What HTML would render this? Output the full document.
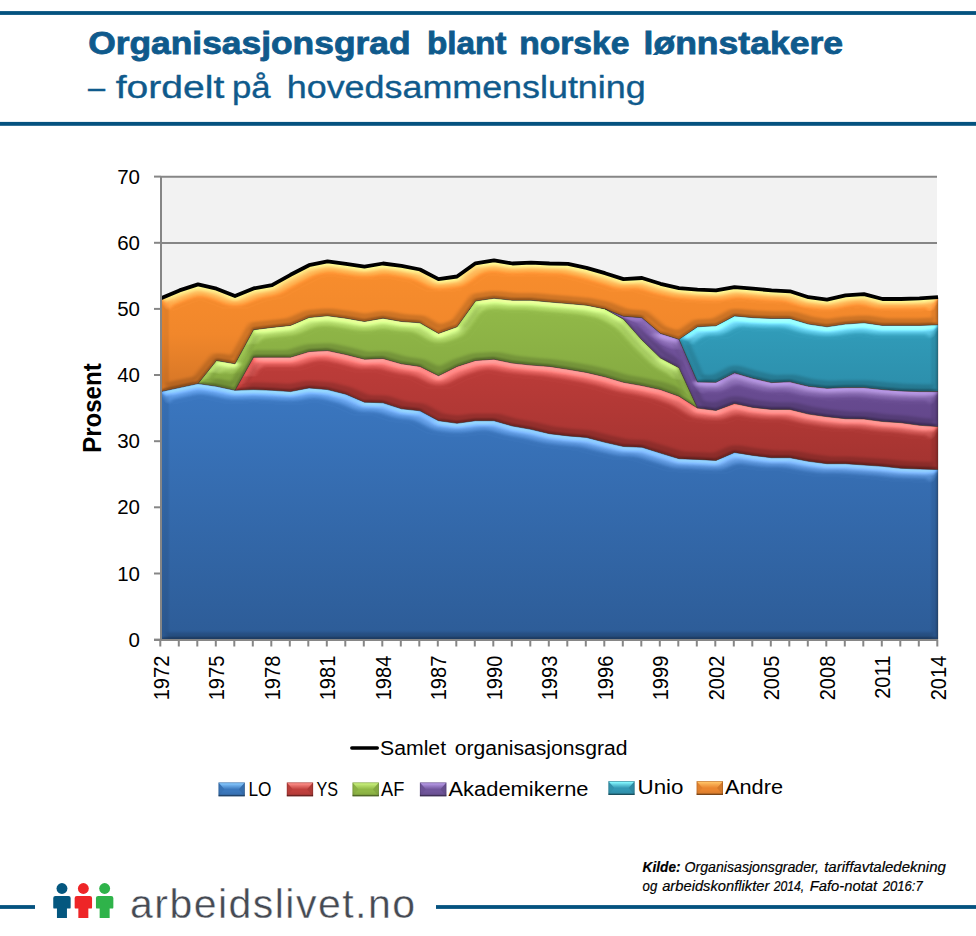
<!DOCTYPE html>
<html lang="no">
<head>
<meta charset="utf-8">
<title>Organisasjonsgrad blant norske lønnstakere</title>
<style>
html,body{margin:0;padding:0;background:#fff;}
body{width:976px;height:936px;overflow:hidden;font-family:"Liberation Sans",sans-serif;}
svg{display:block;}
text{font-family:"Liberation Sans",sans-serif;}
.ax{stroke:#868686;stroke-width:2;fill:none;}
.yl{font-size:20.5px;fill:#000;}
.xl{font-size:19.5px;fill:#000;}
.lg{font-size:20px;fill:#000;}
</style>
</head>
<body>
<svg width="976" height="936" viewBox="0 0 976 936">
<defs>
  <linearGradient id="g-lo" x1="0" y1="380" x2="0" y2="640" gradientUnits="userSpaceOnUse"><stop offset="0" stop-color="#3b78c2"/><stop offset="1" stop-color="#2d5c97"/></linearGradient>
  <linearGradient id="g-ys" x1="0" y1="340" x2="0" y2="470" gradientUnits="userSpaceOnUse"><stop offset="0" stop-color="#c23e3b"/><stop offset="1" stop-color="#a33330"/></linearGradient>
  <linearGradient id="g-af" x1="0" y1="290" x2="0" y2="410" gradientUnits="userSpaceOnUse"><stop offset="0" stop-color="#94bc4a"/><stop offset="1" stop-color="#82a63f"/></linearGradient>
  <linearGradient id="g-ak" x1="0" y1="310" x2="0" y2="430" gradientUnits="userSpaceOnUse"><stop offset="0" stop-color="#7556a0"/><stop offset="1" stop-color="#62468a"/></linearGradient>
  <linearGradient id="g-un" x1="0" y1="310" x2="0" y2="395" gradientUnits="userSpaceOnUse"><stop offset="0" stop-color="#32a0bd"/><stop offset="1" stop-color="#2c8daa"/></linearGradient>
  <linearGradient id="g-an" x1="0" y1="260" x2="0" y2="395" gradientUnits="userSpaceOnUse"><stop offset="0" stop-color="#fa8e2d"/><stop offset="0.55" stop-color="#f1872b"/><stop offset="1" stop-color="#d37426"/></linearGradient>
  <filter id="bv-lo" x="-2%" y="-5%" width="104%" height="110%" color-interpolation-filters="sRGB">
    <feMorphology in="SourceAlpha" operator="erode" radius="3.5" result="er"/>
    <feConvolveMatrix in="er" order="8 1" kernelMatrix="1 1 1 1 1 1 1 1" divisor="8" edgeMode="none" result="bx"/>
    <feConvolveMatrix in="bx" order="1 8" kernelMatrix="1 1 1 1 1 1 1 1" divisor="8" edgeMode="none" result="by"/>
    <feGaussianBlur in="by" stdDeviation="0.8" result="ramp"/>
    <feMorphology in="SourceAlpha" operator="erode" radius="6" result="er2"/>
    <feConvolveMatrix in="er2" order="13 1" kernelMatrix="1 1 1 1 1 1 1 1 1 1 1 1 1" divisor="13" edgeMode="none" result="cx"/>
    <feConvolveMatrix in="cx" order="1 13" kernelMatrix="1 1 1 1 1 1 1 1 1 1 1 1 1" divisor="13" edgeMode="none" result="cy"/>
    <feComponentTransfer in="cy" result="dome0"><feFuncA type="table" tableValues="0 .271 .488 .657 .784 .875 .936 .973 .992 .999 1"/></feComponentTransfer>
    <feGaussianBlur in="dome0" stdDeviation="1.3" result="dome"/>
    <feGaussianBlur in="SourceAlpha" stdDeviation="1.7" result="blurN"/>
    <!-- chamfer faces: nearly overhead light; flat = sin(78) = .978 -->
    <feDiffuseLighting in="ramp" surfaceScale="1.6" diffuseConstant="1" lighting-color="#ffffff" result="dC"><feDistantLight azimuth="270" elevation="78"/></feDiffuseLighting>
    <!-- highlight on top faces: flat = .5 -->
    <feDiffuseLighting in="dome" surfaceScale="4.6" diffuseConstant="1" lighting-color="#ffffff" result="dH"><feDistantLight azimuth="270" elevation="30"/></feDiffuseLighting>
    <feColorMatrix in="dH" type="matrix" values="0.432 0 0 0 -0.216  0 0.432 0 0 -0.216  0 0 0.432 0 -0.216  0 0 0 0 1" result="hl"/>
    <feMorphology in="SourceAlpha" operator="erode" radius="1" result="er1"/>
    <feGaussianBlur in="er1" stdDeviation="2.2" result="blurG"/>
    <feDiffuseLighting in="blurG" surfaceScale="4" diffuseConstant="1" lighting-color="#ffffff" result="dG"><feDistantLight azimuth="270" elevation="30"/></feDiffuseLighting>
    <feColorMatrix in="dG" type="matrix" values="0.243 0 0 0 -0.122  0 0.243 0 0 -0.122  0 0 0.243 0 -0.122  0 0 0 0 1" result="hlG"/>
    <!-- thin dark rim: flat = .7071 -->
    <feDiffuseLighting in="blurN" surfaceScale="3" diffuseConstant="1" lighting-color="#ffffff" result="dN"><feDistantLight azimuth="252" elevation="45"/></feDiffuseLighting>
    <feComposite in="SourceGraphic" in2="dC" operator="arithmetic" k1="1.022" k2="0" k3="0" k4="0" result="l1"/>
    <feComposite in="l1" in2="dN" operator="arithmetic" k1="0.36" k2="0.7455" k3="0" k4="0" result="l2"/>
    <feComposite in="hl" in2="l2" operator="arithmetic" k1="0" k2="1" k3="1" k4="0" result="l3a"/>
    <feComposite in="hlG" in2="l3a" operator="arithmetic" k1="0" k2="1" k3="1" k4="0" result="l3"/>
    <feComposite in="l3" in2="SourceAlpha" operator="in"/>
  </filter>
  <filter id="bv-ys" x="-2%" y="-5%" width="104%" height="110%" color-interpolation-filters="sRGB">
    <feMorphology in="SourceAlpha" operator="erode" radius="3.5" result="er"/>
    <feConvolveMatrix in="er" order="8 1" kernelMatrix="1 1 1 1 1 1 1 1" divisor="8" edgeMode="none" result="bx"/>
    <feConvolveMatrix in="bx" order="1 8" kernelMatrix="1 1 1 1 1 1 1 1" divisor="8" edgeMode="none" result="by"/>
    <feGaussianBlur in="by" stdDeviation="0.8" result="ramp"/>
    <feMorphology in="SourceAlpha" operator="erode" radius="6" result="er2"/>
    <feConvolveMatrix in="er2" order="13 1" kernelMatrix="1 1 1 1 1 1 1 1 1 1 1 1 1" divisor="13" edgeMode="none" result="cx"/>
    <feConvolveMatrix in="cx" order="1 13" kernelMatrix="1 1 1 1 1 1 1 1 1 1 1 1 1" divisor="13" edgeMode="none" result="cy"/>
    <feComponentTransfer in="cy" result="dome0"><feFuncA type="table" tableValues="0 .271 .488 .657 .784 .875 .936 .973 .992 .999 1"/></feComponentTransfer>
    <feGaussianBlur in="dome0" stdDeviation="1.3" result="dome"/>
    <feGaussianBlur in="SourceAlpha" stdDeviation="1.7" result="blurN"/>
    <!-- chamfer faces: nearly overhead light; flat = sin(78) = .978 -->
    <feDiffuseLighting in="ramp" surfaceScale="1.6" diffuseConstant="1" lighting-color="#ffffff" result="dC"><feDistantLight azimuth="270" elevation="78"/></feDiffuseLighting>
    <!-- highlight on top faces: flat = .5 -->
    <feDiffuseLighting in="dome" surfaceScale="4.6" diffuseConstant="1" lighting-color="#ffffff" result="dH"><feDistantLight azimuth="270" elevation="30"/></feDiffuseLighting>
    <feColorMatrix in="dH" type="matrix" values="0.464 0 0 0 -0.232  0 0.464 0 0 -0.232  0 0 0.464 0 -0.232  0 0 0 0 1" result="hl"/>
    <feMorphology in="SourceAlpha" operator="erode" radius="1" result="er1"/>
    <feGaussianBlur in="er1" stdDeviation="2.2" result="blurG"/>
    <feDiffuseLighting in="blurG" surfaceScale="4" diffuseConstant="1" lighting-color="#ffffff" result="dG"><feDistantLight azimuth="270" elevation="30"/></feDiffuseLighting>
    <feColorMatrix in="dG" type="matrix" values="0.261 0 0 0 -0.131  0 0.261 0 0 -0.131  0 0 0.261 0 -0.131  0 0 0 0 1" result="hlG"/>
    <!-- thin dark rim: flat = .7071 -->
    <feDiffuseLighting in="blurN" surfaceScale="3" diffuseConstant="1" lighting-color="#ffffff" result="dN"><feDistantLight azimuth="252" elevation="45"/></feDiffuseLighting>
    <feComposite in="SourceGraphic" in2="dC" operator="arithmetic" k1="1.022" k2="0" k3="0" k4="0" result="l1"/>
    <feComposite in="l1" in2="dN" operator="arithmetic" k1="0.36" k2="0.7455" k3="0" k4="0" result="l2"/>
    <feComposite in="hl" in2="l2" operator="arithmetic" k1="0" k2="1" k3="1" k4="0" result="l3a"/>
    <feComposite in="hlG" in2="l3a" operator="arithmetic" k1="0" k2="1" k3="1" k4="0" result="l3"/>
    <feComposite in="l3" in2="SourceAlpha" operator="in"/>
  </filter>
  <filter id="bv-af" x="-2%" y="-5%" width="104%" height="110%" color-interpolation-filters="sRGB">
    <feMorphology in="SourceAlpha" operator="erode" radius="3.5" result="er"/>
    <feConvolveMatrix in="er" order="8 1" kernelMatrix="1 1 1 1 1 1 1 1" divisor="8" edgeMode="none" result="bx"/>
    <feConvolveMatrix in="bx" order="1 8" kernelMatrix="1 1 1 1 1 1 1 1" divisor="8" edgeMode="none" result="by"/>
    <feGaussianBlur in="by" stdDeviation="0.8" result="ramp"/>
    <feMorphology in="SourceAlpha" operator="erode" radius="6" result="er2"/>
    <feConvolveMatrix in="er2" order="13 1" kernelMatrix="1 1 1 1 1 1 1 1 1 1 1 1 1" divisor="13" edgeMode="none" result="cx"/>
    <feConvolveMatrix in="cx" order="1 13" kernelMatrix="1 1 1 1 1 1 1 1 1 1 1 1 1" divisor="13" edgeMode="none" result="cy"/>
    <feComponentTransfer in="cy" result="dome0"><feFuncA type="table" tableValues="0 .271 .488 .657 .784 .875 .936 .973 .992 .999 1"/></feComponentTransfer>
    <feGaussianBlur in="dome0" stdDeviation="1.3" result="dome"/>
    <feGaussianBlur in="SourceAlpha" stdDeviation="1.7" result="blurN"/>
    <!-- chamfer faces: nearly overhead light; flat = sin(78) = .978 -->
    <feDiffuseLighting in="ramp" surfaceScale="1.6" diffuseConstant="1" lighting-color="#ffffff" result="dC"><feDistantLight azimuth="270" elevation="78"/></feDiffuseLighting>
    <!-- highlight on top faces: flat = .5 -->
    <feDiffuseLighting in="dome" surfaceScale="4.6" diffuseConstant="1" lighting-color="#ffffff" result="dH"><feDistantLight azimuth="270" elevation="30"/></feDiffuseLighting>
    <feColorMatrix in="dH" type="matrix" values="0.384 0 0 0 -0.192  0 0.384 0 0 -0.192  0 0 0.384 0 -0.192  0 0 0 0 1" result="hl"/>
    <feMorphology in="SourceAlpha" operator="erode" radius="1" result="er1"/>
    <feGaussianBlur in="er1" stdDeviation="2.2" result="blurG"/>
    <feDiffuseLighting in="blurG" surfaceScale="4" diffuseConstant="1" lighting-color="#ffffff" result="dG"><feDistantLight azimuth="270" elevation="30"/></feDiffuseLighting>
    <feColorMatrix in="dG" type="matrix" values="0.216 0 0 0 -0.108  0 0.216 0 0 -0.108  0 0 0.216 0 -0.108  0 0 0 0 1" result="hlG"/>
    <!-- thin dark rim: flat = .7071 -->
    <feDiffuseLighting in="blurN" surfaceScale="3" diffuseConstant="1" lighting-color="#ffffff" result="dN"><feDistantLight azimuth="252" elevation="45"/></feDiffuseLighting>
    <feComposite in="SourceGraphic" in2="dC" operator="arithmetic" k1="1.022" k2="0" k3="0" k4="0" result="l1"/>
    <feComposite in="l1" in2="dN" operator="arithmetic" k1="0.36" k2="0.7455" k3="0" k4="0" result="l2"/>
    <feComposite in="hl" in2="l2" operator="arithmetic" k1="0" k2="1" k3="1" k4="0" result="l3a"/>
    <feComposite in="hlG" in2="l3a" operator="arithmetic" k1="0" k2="1" k3="1" k4="0" result="l3"/>
    <feComposite in="l3" in2="SourceAlpha" operator="in"/>
  </filter>
  <filter id="bv-ak" x="-2%" y="-5%" width="104%" height="110%" color-interpolation-filters="sRGB">
    <feMorphology in="SourceAlpha" operator="erode" radius="3.5" result="er"/>
    <feConvolveMatrix in="er" order="8 1" kernelMatrix="1 1 1 1 1 1 1 1" divisor="8" edgeMode="none" result="bx"/>
    <feConvolveMatrix in="bx" order="1 8" kernelMatrix="1 1 1 1 1 1 1 1" divisor="8" edgeMode="none" result="by"/>
    <feGaussianBlur in="by" stdDeviation="0.8" result="ramp"/>
    <feMorphology in="SourceAlpha" operator="erode" radius="6" result="er2"/>
    <feConvolveMatrix in="er2" order="13 1" kernelMatrix="1 1 1 1 1 1 1 1 1 1 1 1 1" divisor="13" edgeMode="none" result="cx"/>
    <feConvolveMatrix in="cx" order="1 13" kernelMatrix="1 1 1 1 1 1 1 1 1 1 1 1 1" divisor="13" edgeMode="none" result="cy"/>
    <feComponentTransfer in="cy" result="dome0"><feFuncA type="table" tableValues="0 .271 .488 .657 .784 .875 .936 .973 .992 .999 1"/></feComponentTransfer>
    <feGaussianBlur in="dome0" stdDeviation="1.3" result="dome"/>
    <feGaussianBlur in="SourceAlpha" stdDeviation="1.7" result="blurN"/>
    <!-- chamfer faces: nearly overhead light; flat = sin(78) = .978 -->
    <feDiffuseLighting in="ramp" surfaceScale="1.6" diffuseConstant="1" lighting-color="#ffffff" result="dC"><feDistantLight azimuth="270" elevation="78"/></feDiffuseLighting>
    <!-- highlight on top faces: flat = .5 -->
    <feDiffuseLighting in="dome" surfaceScale="4.6" diffuseConstant="1" lighting-color="#ffffff" result="dH"><feDistantLight azimuth="270" elevation="30"/></feDiffuseLighting>
    <feColorMatrix in="dH" type="matrix" values="0.336 0 0 0 -0.168  0 0.336 0 0 -0.168  0 0 0.336 0 -0.168  0 0 0 0 1" result="hl"/>
    <feMorphology in="SourceAlpha" operator="erode" radius="1" result="er1"/>
    <feGaussianBlur in="er1" stdDeviation="2.2" result="blurG"/>
    <feDiffuseLighting in="blurG" surfaceScale="4" diffuseConstant="1" lighting-color="#ffffff" result="dG"><feDistantLight azimuth="270" elevation="30"/></feDiffuseLighting>
    <feColorMatrix in="dG" type="matrix" values="0.189 0 0 0 -0.095  0 0.189 0 0 -0.095  0 0 0.189 0 -0.095  0 0 0 0 1" result="hlG"/>
    <!-- thin dark rim: flat = .7071 -->
    <feDiffuseLighting in="blurN" surfaceScale="3" diffuseConstant="1" lighting-color="#ffffff" result="dN"><feDistantLight azimuth="252" elevation="45"/></feDiffuseLighting>
    <feComposite in="SourceGraphic" in2="dC" operator="arithmetic" k1="1.022" k2="0" k3="0" k4="0" result="l1"/>
    <feComposite in="l1" in2="dN" operator="arithmetic" k1="0.36" k2="0.7455" k3="0" k4="0" result="l2"/>
    <feComposite in="hl" in2="l2" operator="arithmetic" k1="0" k2="1" k3="1" k4="0" result="l3a"/>
    <feComposite in="hlG" in2="l3a" operator="arithmetic" k1="0" k2="1" k3="1" k4="0" result="l3"/>
    <feComposite in="l3" in2="SourceAlpha" operator="in"/>
  </filter>
  <filter id="bv-un" x="-2%" y="-5%" width="104%" height="110%" color-interpolation-filters="sRGB">
    <feMorphology in="SourceAlpha" operator="erode" radius="3.5" result="er"/>
    <feConvolveMatrix in="er" order="8 1" kernelMatrix="1 1 1 1 1 1 1 1" divisor="8" edgeMode="none" result="bx"/>
    <feConvolveMatrix in="bx" order="1 8" kernelMatrix="1 1 1 1 1 1 1 1" divisor="8" edgeMode="none" result="by"/>
    <feGaussianBlur in="by" stdDeviation="0.8" result="ramp"/>
    <feMorphology in="SourceAlpha" operator="erode" radius="6" result="er2"/>
    <feConvolveMatrix in="er2" order="13 1" kernelMatrix="1 1 1 1 1 1 1 1 1 1 1 1 1" divisor="13" edgeMode="none" result="cx"/>
    <feConvolveMatrix in="cx" order="1 13" kernelMatrix="1 1 1 1 1 1 1 1 1 1 1 1 1" divisor="13" edgeMode="none" result="cy"/>
    <feComponentTransfer in="cy" result="dome0"><feFuncA type="table" tableValues="0 .271 .488 .657 .784 .875 .936 .973 .992 .999 1"/></feComponentTransfer>
    <feGaussianBlur in="dome0" stdDeviation="1.3" result="dome"/>
    <feGaussianBlur in="SourceAlpha" stdDeviation="1.7" result="blurN"/>
    <!-- chamfer faces: nearly overhead light; flat = sin(78) = .978 -->
    <feDiffuseLighting in="ramp" surfaceScale="1.6" diffuseConstant="1" lighting-color="#ffffff" result="dC"><feDistantLight azimuth="270" elevation="78"/></feDiffuseLighting>
    <!-- highlight on top faces: flat = .5 -->
    <feDiffuseLighting in="dome" surfaceScale="4.6" diffuseConstant="1" lighting-color="#ffffff" result="dH"><feDistantLight azimuth="270" elevation="30"/></feDiffuseLighting>
    <feColorMatrix in="dH" type="matrix" values="0.560 0 0 0 -0.280  0 0.560 0 0 -0.280  0 0 0.560 0 -0.280  0 0 0 0 1" result="hl"/>
    <feMorphology in="SourceAlpha" operator="erode" radius="1" result="er1"/>
    <feGaussianBlur in="er1" stdDeviation="2.2" result="blurG"/>
    <feDiffuseLighting in="blurG" surfaceScale="4" diffuseConstant="1" lighting-color="#ffffff" result="dG"><feDistantLight azimuth="270" elevation="30"/></feDiffuseLighting>
    <feColorMatrix in="dG" type="matrix" values="0.315 0 0 0 -0.158  0 0.315 0 0 -0.158  0 0 0.315 0 -0.158  0 0 0 0 1" result="hlG"/>
    <!-- thin dark rim: flat = .7071 -->
    <feDiffuseLighting in="blurN" surfaceScale="3" diffuseConstant="1" lighting-color="#ffffff" result="dN"><feDistantLight azimuth="252" elevation="45"/></feDiffuseLighting>
    <feComposite in="SourceGraphic" in2="dC" operator="arithmetic" k1="1.022" k2="0" k3="0" k4="0" result="l1"/>
    <feComposite in="l1" in2="dN" operator="arithmetic" k1="0.36" k2="0.7455" k3="0" k4="0" result="l2"/>
    <feComposite in="hl" in2="l2" operator="arithmetic" k1="0" k2="1" k3="1" k4="0" result="l3a"/>
    <feComposite in="hlG" in2="l3a" operator="arithmetic" k1="0" k2="1" k3="1" k4="0" result="l3"/>
    <feComposite in="l3" in2="SourceAlpha" operator="in"/>
  </filter>
  <filter id="bv-an" x="-2%" y="-5%" width="104%" height="110%" color-interpolation-filters="sRGB">
    <feMorphology in="SourceAlpha" operator="erode" radius="3.5" result="er"/>
    <feConvolveMatrix in="er" order="8 1" kernelMatrix="1 1 1 1 1 1 1 1" divisor="8" edgeMode="none" result="bx"/>
    <feConvolveMatrix in="bx" order="1 8" kernelMatrix="1 1 1 1 1 1 1 1" divisor="8" edgeMode="none" result="by"/>
    <feGaussianBlur in="by" stdDeviation="0.8" result="ramp"/>
    <feMorphology in="SourceAlpha" operator="erode" radius="6" result="er2"/>
    <feConvolveMatrix in="er2" order="13 1" kernelMatrix="1 1 1 1 1 1 1 1 1 1 1 1 1" divisor="13" edgeMode="none" result="cx"/>
    <feConvolveMatrix in="cx" order="1 13" kernelMatrix="1 1 1 1 1 1 1 1 1 1 1 1 1" divisor="13" edgeMode="none" result="cy"/>
    <feComponentTransfer in="cy" result="dome0"><feFuncA type="table" tableValues="0 .271 .488 .657 .784 .875 .936 .973 .992 .999 1"/></feComponentTransfer>
    <feGaussianBlur in="dome0" stdDeviation="1.3" result="dome"/>
    <feGaussianBlur in="SourceAlpha" stdDeviation="1.7" result="blurN"/>
    <!-- chamfer faces: nearly overhead light; flat = sin(78) = .978 -->
    <feDiffuseLighting in="ramp" surfaceScale="1.6" diffuseConstant="1" lighting-color="#ffffff" result="dC"><feDistantLight azimuth="270" elevation="78"/></feDiffuseLighting>
    <!-- highlight on top faces: flat = .5 -->
    <feDiffuseLighting in="dome" surfaceScale="4.6" diffuseConstant="1" lighting-color="#ffffff" result="dH"><feDistantLight azimuth="270" elevation="30"/></feDiffuseLighting>
    <feColorMatrix in="dH" type="matrix" values="0.496 0 0 0 -0.248  0 0.496 0 0 -0.248  0 0 0.496 0 -0.248  0 0 0 0 1" result="hl"/>
    <feMorphology in="SourceAlpha" operator="erode" radius="1" result="er1"/>
    <feGaussianBlur in="er1" stdDeviation="2.2" result="blurG"/>
    <feDiffuseLighting in="blurG" surfaceScale="4" diffuseConstant="1" lighting-color="#ffffff" result="dG"><feDistantLight azimuth="270" elevation="30"/></feDiffuseLighting>
    <feColorMatrix in="dG" type="matrix" values="0.279 0 0 0 -0.140  0 0.279 0 0 -0.140  0 0 0.279 0 -0.140  0 0 0 0 1" result="hlG"/>
    <!-- thin dark rim: flat = .7071 -->
    <feDiffuseLighting in="blurN" surfaceScale="3" diffuseConstant="1" lighting-color="#ffffff" result="dN"><feDistantLight azimuth="252" elevation="45"/></feDiffuseLighting>
    <feComposite in="SourceGraphic" in2="dC" operator="arithmetic" k1="1.022" k2="0" k3="0" k4="0" result="l1"/>
    <feComposite in="l1" in2="dN" operator="arithmetic" k1="0.36" k2="0.7455" k3="0" k4="0" result="l2"/>
    <feComposite in="hl" in2="l2" operator="arithmetic" k1="0" k2="1" k3="1" k4="0" result="l3a"/>
    <feComposite in="hlG" in2="l3a" operator="arithmetic" k1="0" k2="1" k3="1" k4="0" result="l3"/>
    <feComposite in="l3" in2="SourceAlpha" operator="in"/>
  </filter>
  <linearGradient id="swT0" x1="0" y1="0" x2="0" y2="1"><stop offset="0" stop-color="#86c8ff" stop-opacity="0.35"/><stop offset="0.17" stop-color="#86c8ff" stop-opacity="0.98"/><stop offset="0.45" stop-color="#86c8ff" stop-opacity="0.62"/><stop offset="1" stop-color="#86c8ff" stop-opacity="0"/></linearGradient>
  <linearGradient id="swT1" x1="0" y1="0" x2="0" y2="1"><stop offset="0" stop-color="#ff8f89" stop-opacity="0.35"/><stop offset="0.17" stop-color="#ff8f89" stop-opacity="0.98"/><stop offset="0.45" stop-color="#ff8f89" stop-opacity="0.62"/><stop offset="1" stop-color="#ff8f89" stop-opacity="0"/></linearGradient>
  <linearGradient id="swT2" x1="0" y1="0" x2="0" y2="1"><stop offset="0" stop-color="#c9f07c" stop-opacity="0.35"/><stop offset="0.17" stop-color="#c9f07c" stop-opacity="0.98"/><stop offset="0.45" stop-color="#c9f07c" stop-opacity="0.62"/><stop offset="1" stop-color="#c9f07c" stop-opacity="0"/></linearGradient>
  <linearGradient id="swT3" x1="0" y1="0" x2="0" y2="1"><stop offset="0" stop-color="#b79ae6" stop-opacity="0.35"/><stop offset="0.17" stop-color="#b79ae6" stop-opacity="0.98"/><stop offset="0.45" stop-color="#b79ae6" stop-opacity="0.62"/><stop offset="1" stop-color="#b79ae6" stop-opacity="0"/></linearGradient>
  <linearGradient id="swT4" x1="0" y1="0" x2="0" y2="1"><stop offset="0" stop-color="#84f8ff" stop-opacity="0.35"/><stop offset="0.17" stop-color="#84f8ff" stop-opacity="0.98"/><stop offset="0.45" stop-color="#84f8ff" stop-opacity="0.62"/><stop offset="1" stop-color="#84f8ff" stop-opacity="0"/></linearGradient>
  <linearGradient id="swT5" x1="0" y1="0" x2="0" y2="1"><stop offset="0" stop-color="#ffc266" stop-opacity="0.35"/><stop offset="0.17" stop-color="#ffc266" stop-opacity="0.98"/><stop offset="0.45" stop-color="#ffc266" stop-opacity="0.62"/><stop offset="1" stop-color="#ffc266" stop-opacity="0"/></linearGradient>
  <linearGradient id="swBot" x1="0" y1="0" x2="0" y2="1"><stop offset="0" stop-color="#000" stop-opacity="0"/><stop offset="0.6" stop-color="#000" stop-opacity="0.06"/><stop offset="0.8" stop-color="#000" stop-opacity="0.38"/><stop offset="1" stop-color="#000" stop-opacity="0.42"/></linearGradient>
</defs>

<!-- header -->
<rect x="0" y="11.1" width="976" height="3.8" fill="#04527f"/>
<rect x="0" y="121.9" width="976" height="3.9" fill="#04527f"/>
<text x="88.20" y="54" font-size="30.5" font-weight="bold" fill="#0f5a8c" stroke="#0f5a8c" stroke-width="0.8" textLength="322.37" lengthAdjust="spacingAndGlyphs">Organisasjonsgrad</text>
<text x="426.90" y="54" font-size="30.5" font-weight="bold" fill="#0f5a8c" stroke="#0f5a8c" stroke-width="0.8" textLength="79.55" lengthAdjust="spacingAndGlyphs">blant</text>
<text x="519.20" y="54" font-size="30.5" font-weight="bold" fill="#0f5a8c" stroke="#0f5a8c" stroke-width="0.8" textLength="110.32" lengthAdjust="spacingAndGlyphs">norske</text>
<text x="643.60" y="54" font-size="30.5" font-weight="bold" fill="#0f5a8c" stroke="#0f5a8c" stroke-width="0.8" textLength="199.41" lengthAdjust="spacingAndGlyphs">lønnstakere</text>
<text x="88.10" y="98" font-size="31" fill="#0f5a8c" stroke="#0f5a8c" stroke-width="0.35" textLength="17.14" lengthAdjust="spacingAndGlyphs">–</text>
<text x="115.70" y="98" font-size="31" fill="#0f5a8c" stroke="#0f5a8c" stroke-width="0.35" textLength="108.65" lengthAdjust="spacingAndGlyphs">fordelt</text>
<text x="232.00" y="98" font-size="31" fill="#0f5a8c" stroke="#0f5a8c" stroke-width="0.35" textLength="38.58" lengthAdjust="spacingAndGlyphs">på</text>
<text x="286.80" y="98" font-size="31" fill="#0f5a8c" stroke="#0f5a8c" stroke-width="0.35" textLength="358.88" lengthAdjust="spacingAndGlyphs">hovedsammenslutning</text>

<!-- plot -->
<rect x="161" y="177" width="776" height="463" fill="#f2f2f2"/>
<g class="ax">
<line x1="161" x2="937" y1="176.8" y2="176.8"/>
<line x1="161" x2="937" y1="242.9" y2="242.9"/>
<line x1="161" x2="937" y1="309" y2="309"/>
</g>
<path class="b" d="M161.0 391.6 L179.5 387.6 L198.0 383.6 L216.5 386.3 L235.0 390.3 L253.5 389.6 L272.0 390.3 L290.5 391.6 L309.0 387.9 L327.5 389.6 L346.0 394.2 L364.5 402.2 L383.0 402.8 L401.5 408.8 L420.0 410.8 L438.5 420.7 L457.0 423.3 L475.5 420.7 L494.0 420.7 L512.5 426.0 L531.0 429.3 L549.5 433.7 L568.0 435.9 L586.5 437.4 L605.0 442.3 L623.5 446.5 L642.0 447.2 L660.5 453.1 L679.0 458.7 L697.5 459.4 L716.0 460.4 L734.5 452.4 L753.0 455.4 L771.5 457.7 L790.0 457.7 L808.5 461.3 L827.0 463.7 L845.5 463.7 L864.0 465.0 L882.5 466.3 L901.0 468.3 L919.5 469.0 L938.0 469.6 L938.0 639.6 L919.5 639.6 L901.0 639.6 L882.5 639.6 L864.0 639.6 L845.5 639.6 L827.0 639.6 L808.5 639.6 L790.0 639.6 L771.5 639.6 L753.0 639.6 L734.5 639.6 L716.0 639.6 L697.5 639.6 L679.0 639.6 L660.5 639.6 L642.0 639.6 L623.5 639.6 L605.0 639.6 L586.5 639.6 L568.0 639.6 L549.5 639.6 L531.0 639.6 L512.5 639.6 L494.0 639.6 L475.5 639.6 L457.0 639.6 L438.5 639.6 L420.0 639.6 L401.5 639.6 L383.0 639.6 L364.5 639.6 L346.0 639.6 L327.5 639.6 L309.0 639.6 L290.5 639.6 L272.0 639.6 L253.5 639.6 L235.0 639.6 L216.5 639.6 L198.0 639.6 L179.5 639.6 L161.0 639.6Z" fill="url(#g-lo)" filter="url(#bv-lo)"/>
<path class="b" d="M235.0 390.3 L253.5 357.2 L272.0 357.2 L290.5 357.2 L309.0 351.6 L327.5 350.6 L346.0 354.5 L364.5 359.2 L383.0 358.5 L401.5 363.8 L420.0 366.4 L438.5 375.7 L457.0 366.4 L475.5 360.5 L494.0 359.2 L512.5 363.1 L531.0 365.1 L549.5 366.4 L568.0 369.3 L586.5 372.4 L605.0 376.8 L623.5 382.3 L642.0 385.6 L660.5 389.6 L679.0 396.2 L697.5 408.1 L716.0 410.4 L734.5 403.5 L753.0 407.4 L771.5 409.4 L790.0 409.4 L808.5 414.1 L827.0 416.7 L845.5 418.7 L864.0 419.0 L882.5 421.5 L901.0 422.7 L919.5 425.3 L938.0 426.6 L938.0 469.6 L919.5 469.0 L901.0 468.3 L882.5 466.3 L864.0 465.0 L845.5 463.7 L827.0 463.7 L808.5 461.3 L790.0 457.7 L771.5 457.7 L753.0 455.4 L734.5 452.4 L716.0 460.4 L697.5 459.4 L679.0 458.7 L660.5 453.1 L642.0 447.2 L623.5 446.5 L605.0 442.3 L586.5 437.4 L568.0 435.9 L549.5 433.7 L531.0 429.3 L512.5 426.0 L494.0 420.7 L475.5 420.7 L457.0 423.3 L438.5 420.7 L420.0 410.8 L401.5 408.8 L383.0 402.8 L364.5 402.2 L346.0 394.2 L327.5 389.6 L309.0 387.9 L290.5 391.6 L272.0 390.3 L253.5 389.6 L235.0 390.3Z" fill="url(#g-ys)" filter="url(#bv-ys)"/>
<path class="b" d="M198.0 383.6 L216.5 360.5 L235.0 363.8 L253.5 329.7 L272.0 327.4 L290.5 325.4 L309.0 317.5 L327.5 315.8 L346.0 318.2 L364.5 321.5 L383.0 318.2 L401.5 321.5 L420.0 322.8 L438.5 333.4 L457.0 326.8 L475.5 301.0 L494.0 298.3 L512.5 300.3 L531.0 300.3 L549.5 302.0 L568.0 303.6 L586.5 305.2 L605.0 308.9 L623.5 319.2 L642.0 340.1 L660.5 358.0 L679.0 367.8 L697.5 408.1 L697.5 408.1 L679.0 396.2 L660.5 389.6 L642.0 385.6 L623.5 382.3 L605.0 376.8 L586.5 372.4 L568.0 369.3 L549.5 366.4 L531.0 365.1 L512.5 363.1 L494.0 359.2 L475.5 360.5 L457.0 366.4 L438.5 375.7 L420.0 366.4 L401.5 363.8 L383.0 358.5 L364.5 359.2 L346.0 354.5 L327.5 350.6 L309.0 351.6 L290.5 357.2 L272.0 357.2 L253.5 357.2 L235.0 390.3 L216.5 386.3 L198.0 383.6Z" fill="url(#g-af)" filter="url(#bv-af)"/>
<path class="b" d="M605.0 308.9 L623.5 316.2 L642.0 317.7 L660.5 333.4 L679.0 339.3 L697.5 382.0 L716.0 382.3 L734.5 372.8 L753.0 378.3 L771.5 382.6 L790.0 381.8 L808.5 386.3 L827.0 388.3 L845.5 387.6 L864.0 387.6 L882.5 389.6 L901.0 390.9 L919.5 391.6 L938.0 391.6 L938.0 426.6 L919.5 425.3 L901.0 422.7 L882.5 421.5 L864.0 419.0 L845.5 418.7 L827.0 416.7 L808.5 414.1 L790.0 409.4 L771.5 409.4 L753.0 407.4 L734.5 403.5 L716.0 410.4 L697.5 408.1 L679.0 367.8 L660.5 358.0 L642.0 340.1 L623.5 319.2 L605.0 308.9Z" fill="url(#g-ak)" filter="url(#bv-ak)"/>
<path class="b" d="M679.0 339.3 L697.5 326.8 L716.0 325.8 L734.5 315.9 L753.0 317.7 L771.5 318.5 L790.0 318.5 L808.5 324.1 L827.0 326.8 L845.5 324.1 L864.0 322.8 L882.5 325.4 L901.0 325.4 L919.5 325.4 L938.0 324.8 L938.0 391.6 L919.5 391.6 L901.0 390.9 L882.5 389.6 L864.0 387.6 L845.5 387.6 L827.0 388.3 L808.5 386.3 L790.0 381.8 L771.5 382.6 L753.0 378.3 L734.5 372.8 L716.0 382.3 L697.5 382.0 L679.0 339.3Z" fill="url(#g-un)" filter="url(#bv-un)"/>
<path class="b" d="M161.0 298.3 L179.5 290.4 L198.0 284.4 L216.5 288.7 L235.0 296.0 L253.5 288.4 L272.0 285.1 L290.5 274.8 L309.0 265.2 L327.5 261.3 L346.0 263.9 L364.5 266.7 L383.0 263.5 L401.5 265.9 L420.0 269.5 L438.5 279.1 L457.0 276.5 L475.5 263.3 L494.0 260.3 L512.5 263.5 L531.0 262.6 L549.5 263.5 L568.0 263.9 L586.5 267.9 L605.0 273.2 L623.5 279.1 L642.0 278.0 L660.5 283.8 L679.0 288.1 L697.5 289.7 L716.0 290.4 L734.5 287.1 L753.0 288.7 L771.5 290.4 L790.0 291.3 L808.5 297.2 L827.0 299.6 L845.5 295.4 L864.0 294.1 L882.5 299.0 L901.0 299.0 L919.5 298.4 L938.0 297.2 L938.0 324.8 L919.5 325.4 L901.0 325.4 L882.5 325.4 L864.0 322.8 L845.5 324.1 L827.0 326.8 L808.5 324.1 L790.0 318.5 L771.5 318.5 L753.0 317.7 L734.5 315.9 L716.0 325.8 L697.5 326.8 L679.0 339.3 L660.5 333.4 L642.0 317.7 L623.5 316.2 L605.0 308.9 L586.5 305.2 L568.0 303.6 L549.5 302.0 L531.0 300.3 L512.5 300.3 L494.0 298.3 L475.5 301.0 L457.0 326.8 L438.5 333.4 L420.0 322.8 L401.5 321.5 L383.0 318.2 L364.5 321.5 L346.0 318.2 L327.5 315.8 L309.0 317.5 L290.5 325.4 L272.0 327.4 L253.5 329.7 L235.0 363.8 L216.5 360.5 L198.0 383.6 L179.5 387.6 L161.0 391.6Z" fill="url(#g-an)" filter="url(#bv-an)"/>
<path d="M161.0 391.6 L179.5 387.6 L198.0 383.6 L216.5 386.3 L235.0 390.3 L253.5 389.6 L272.0 390.3 L290.5 391.6 L309.0 387.9 L327.5 389.6 L346.0 394.2 L364.5 402.2 L383.0 402.8 L401.5 408.8 L420.0 410.8 L438.5 420.7 L457.0 423.3 L475.5 420.7 L494.0 420.7 L512.5 426.0 L531.0 429.3 L549.5 433.7 L568.0 435.9 L586.5 437.4 L605.0 442.3 L623.5 446.5 L642.0 447.2 L660.5 453.1 L679.0 458.7 L697.5 459.4 L716.0 460.4 L734.5 452.4 L753.0 455.4 L771.5 457.7 L790.0 457.7 L808.5 461.3 L827.0 463.7 L845.5 463.7 L864.0 465.0 L882.5 466.3 L901.0 468.3 L919.5 469.0 L938.0 469.6 L938.0 639.6 L919.5 639.6 L901.0 639.6 L882.5 639.6 L864.0 639.6 L845.5 639.6 L827.0 639.6 L808.5 639.6 L790.0 639.6 L771.5 639.6 L753.0 639.6 L734.5 639.6 L716.0 639.6 L697.5 639.6 L679.0 639.6 L660.5 639.6 L642.0 639.6 L623.5 639.6 L605.0 639.6 L586.5 639.6 L568.0 639.6 L549.5 639.6 L531.0 639.6 L512.5 639.6 L494.0 639.6 L475.5 639.6 L457.0 639.6 L438.5 639.6 L420.0 639.6 L401.5 639.6 L383.0 639.6 L364.5 639.6 L346.0 639.6 L327.5 639.6 L309.0 639.6 L290.5 639.6 L272.0 639.6 L253.5 639.6 L235.0 639.6 L216.5 639.6 L198.0 639.6 L179.5 639.6 L161.0 639.6Z" fill="none" stroke="#2a1a10" stroke-opacity="0.24" stroke-width="1" stroke-linejoin="round"/>
<path d="M235.0 390.3 L253.5 357.2 L272.0 357.2 L290.5 357.2 L309.0 351.6 L327.5 350.6 L346.0 354.5 L364.5 359.2 L383.0 358.5 L401.5 363.8 L420.0 366.4 L438.5 375.7 L457.0 366.4 L475.5 360.5 L494.0 359.2 L512.5 363.1 L531.0 365.1 L549.5 366.4 L568.0 369.3 L586.5 372.4 L605.0 376.8 L623.5 382.3 L642.0 385.6 L660.5 389.6 L679.0 396.2 L697.5 408.1 L716.0 410.4 L734.5 403.5 L753.0 407.4 L771.5 409.4 L790.0 409.4 L808.5 414.1 L827.0 416.7 L845.5 418.7 L864.0 419.0 L882.5 421.5 L901.0 422.7 L919.5 425.3 L938.0 426.6 L938.0 469.6 L919.5 469.0 L901.0 468.3 L882.5 466.3 L864.0 465.0 L845.5 463.7 L827.0 463.7 L808.5 461.3 L790.0 457.7 L771.5 457.7 L753.0 455.4 L734.5 452.4 L716.0 460.4 L697.5 459.4 L679.0 458.7 L660.5 453.1 L642.0 447.2 L623.5 446.5 L605.0 442.3 L586.5 437.4 L568.0 435.9 L549.5 433.7 L531.0 429.3 L512.5 426.0 L494.0 420.7 L475.5 420.7 L457.0 423.3 L438.5 420.7 L420.0 410.8 L401.5 408.8 L383.0 402.8 L364.5 402.2 L346.0 394.2 L327.5 389.6 L309.0 387.9 L290.5 391.6 L272.0 390.3 L253.5 389.6 L235.0 390.3Z" fill="none" stroke="#2a1a10" stroke-opacity="0.24" stroke-width="1" stroke-linejoin="round"/>
<path d="M198.0 383.6 L216.5 360.5 L235.0 363.8 L253.5 329.7 L272.0 327.4 L290.5 325.4 L309.0 317.5 L327.5 315.8 L346.0 318.2 L364.5 321.5 L383.0 318.2 L401.5 321.5 L420.0 322.8 L438.5 333.4 L457.0 326.8 L475.5 301.0 L494.0 298.3 L512.5 300.3 L531.0 300.3 L549.5 302.0 L568.0 303.6 L586.5 305.2 L605.0 308.9 L623.5 319.2 L642.0 340.1 L660.5 358.0 L679.0 367.8 L697.5 408.1 L697.5 408.1 L679.0 396.2 L660.5 389.6 L642.0 385.6 L623.5 382.3 L605.0 376.8 L586.5 372.4 L568.0 369.3 L549.5 366.4 L531.0 365.1 L512.5 363.1 L494.0 359.2 L475.5 360.5 L457.0 366.4 L438.5 375.7 L420.0 366.4 L401.5 363.8 L383.0 358.5 L364.5 359.2 L346.0 354.5 L327.5 350.6 L309.0 351.6 L290.5 357.2 L272.0 357.2 L253.5 357.2 L235.0 390.3 L216.5 386.3 L198.0 383.6Z" fill="none" stroke="#2a1a10" stroke-opacity="0.24" stroke-width="1" stroke-linejoin="round"/>
<path d="M605.0 308.9 L623.5 316.2 L642.0 317.7 L660.5 333.4 L679.0 339.3 L697.5 382.0 L716.0 382.3 L734.5 372.8 L753.0 378.3 L771.5 382.6 L790.0 381.8 L808.5 386.3 L827.0 388.3 L845.5 387.6 L864.0 387.6 L882.5 389.6 L901.0 390.9 L919.5 391.6 L938.0 391.6 L938.0 426.6 L919.5 425.3 L901.0 422.7 L882.5 421.5 L864.0 419.0 L845.5 418.7 L827.0 416.7 L808.5 414.1 L790.0 409.4 L771.5 409.4 L753.0 407.4 L734.5 403.5 L716.0 410.4 L697.5 408.1 L679.0 367.8 L660.5 358.0 L642.0 340.1 L623.5 319.2 L605.0 308.9Z" fill="none" stroke="#2a1a10" stroke-opacity="0.24" stroke-width="1" stroke-linejoin="round"/>
<path d="M679.0 339.3 L697.5 326.8 L716.0 325.8 L734.5 315.9 L753.0 317.7 L771.5 318.5 L790.0 318.5 L808.5 324.1 L827.0 326.8 L845.5 324.1 L864.0 322.8 L882.5 325.4 L901.0 325.4 L919.5 325.4 L938.0 324.8 L938.0 391.6 L919.5 391.6 L901.0 390.9 L882.5 389.6 L864.0 387.6 L845.5 387.6 L827.0 388.3 L808.5 386.3 L790.0 381.8 L771.5 382.6 L753.0 378.3 L734.5 372.8 L716.0 382.3 L697.5 382.0 L679.0 339.3Z" fill="none" stroke="#2a1a10" stroke-opacity="0.24" stroke-width="1" stroke-linejoin="round"/>
<path d="M161.0 298.3 L179.5 290.4 L198.0 284.4 L216.5 288.7 L235.0 296.0 L253.5 288.4 L272.0 285.1 L290.5 274.8 L309.0 265.2 L327.5 261.3 L346.0 263.9 L364.5 266.7 L383.0 263.5 L401.5 265.9 L420.0 269.5 L438.5 279.1 L457.0 276.5 L475.5 263.3 L494.0 260.3 L512.5 263.5 L531.0 262.6 L549.5 263.5 L568.0 263.9 L586.5 267.9 L605.0 273.2 L623.5 279.1 L642.0 278.0 L660.5 283.8 L679.0 288.1 L697.5 289.7 L716.0 290.4 L734.5 287.1 L753.0 288.7 L771.5 290.4 L790.0 291.3 L808.5 297.2 L827.0 299.6 L845.5 295.4 L864.0 294.1 L882.5 299.0 L901.0 299.0 L919.5 298.4 L938.0 297.2 L938.0 324.8 L919.5 325.4 L901.0 325.4 L882.5 325.4 L864.0 322.8 L845.5 324.1 L827.0 326.8 L808.5 324.1 L790.0 318.5 L771.5 318.5 L753.0 317.7 L734.5 315.9 L716.0 325.8 L697.5 326.8 L679.0 339.3 L660.5 333.4 L642.0 317.7 L623.5 316.2 L605.0 308.9 L586.5 305.2 L568.0 303.6 L549.5 302.0 L531.0 300.3 L512.5 300.3 L494.0 298.3 L475.5 301.0 L457.0 326.8 L438.5 333.4 L420.0 322.8 L401.5 321.5 L383.0 318.2 L364.5 321.5 L346.0 318.2 L327.5 315.8 L309.0 317.5 L290.5 325.4 L272.0 327.4 L253.5 329.7 L235.0 363.8 L216.5 360.5 L198.0 383.6 L179.5 387.6 L161.0 391.6Z" fill="none" stroke="#2a1a10" stroke-opacity="0.24" stroke-width="1" stroke-linejoin="round"/>
<path d="M161.0 298.3 L179.5 290.4 L198.0 284.4 L216.5 288.7 L235.0 296.0 L253.5 288.4 L272.0 285.1 L290.5 274.8 L309.0 265.2 L327.5 261.3 L346.0 263.9 L364.5 266.7 L383.0 263.5 L401.5 265.9 L420.0 269.5 L438.5 279.1 L457.0 276.5 L475.5 263.3 L494.0 260.3 L512.5 263.5 L531.0 262.6 L549.5 263.5 L568.0 263.9 L586.5 267.9 L605.0 273.2 L623.5 279.1 L642.0 278.0 L660.5 283.8 L679.0 288.1 L697.5 289.7 L716.0 290.4 L734.5 287.1 L753.0 288.7 L771.5 290.4 L790.0 291.3 L808.5 297.2 L827.0 299.6 L845.5 295.4 L864.0 294.1 L882.5 299.0 L901.0 299.0 L919.5 298.4 L938.0 297.2" fill="none" stroke="#000" stroke-width="3.8" stroke-linejoin="round" stroke-linecap="butt"/>
<line x1="161" x2="161" y1="176" y2="641" class="ax"/>
<line x1="154" x2="938" y1="640" y2="640" class="ax"/>
<line x1="154" x2="161" y1="639.6" y2="639.6" class="ax"/>
<text class="yl" x="140" y="646.6" text-anchor="end">0</text>
<line x1="154" x2="161" y1="573.5" y2="573.5" class="ax"/>
<text class="yl" x="140" y="580.5" text-anchor="end">10</text>
<line x1="154" x2="161" y1="507.3" y2="507.3" class="ax"/>
<text class="yl" x="140" y="514.3" text-anchor="end">20</text>
<line x1="154" x2="161" y1="441.2" y2="441.2" class="ax"/>
<text class="yl" x="140" y="448.2" text-anchor="end">30</text>
<line x1="154" x2="161" y1="375.0" y2="375.0" class="ax"/>
<text class="yl" x="140" y="382.0" text-anchor="end">40</text>
<line x1="154" x2="161" y1="308.9" y2="308.9" class="ax"/>
<text class="yl" x="140" y="315.9" text-anchor="end">50</text>
<line x1="154" x2="161" y1="242.8" y2="242.8" class="ax"/>
<text class="yl" x="140" y="249.8" text-anchor="end">60</text>
<line x1="154" x2="161" y1="176.6" y2="176.6" class="ax"/>
<text class="yl" x="140" y="183.6" text-anchor="end">70</text>
<line x1="160.3" x2="160.3" y1="640" y2="646.5" class="ax"/>
<text class="xl" transform="translate(168.7,655.7) rotate(-90) scale(1.028,1.10)" text-anchor="end">1972</text>
<line x1="178.8" x2="178.8" y1="640" y2="646.5" class="ax"/>
<line x1="197.3" x2="197.3" y1="640" y2="646.5" class="ax"/>
<line x1="215.8" x2="215.8" y1="640" y2="646.5" class="ax"/>
<text class="xl" transform="translate(224.2,655.7) rotate(-90) scale(1.028,1.10)" text-anchor="end">1975</text>
<line x1="234.3" x2="234.3" y1="640" y2="646.5" class="ax"/>
<line x1="252.8" x2="252.8" y1="640" y2="646.5" class="ax"/>
<line x1="271.3" x2="271.3" y1="640" y2="646.5" class="ax"/>
<text class="xl" transform="translate(279.7,655.7) rotate(-90) scale(1.028,1.10)" text-anchor="end">1978</text>
<line x1="289.8" x2="289.8" y1="640" y2="646.5" class="ax"/>
<line x1="308.3" x2="308.3" y1="640" y2="646.5" class="ax"/>
<line x1="326.8" x2="326.8" y1="640" y2="646.5" class="ax"/>
<text class="xl" transform="translate(335.2,655.7) rotate(-90) scale(1.028,1.10)" text-anchor="end">1981</text>
<line x1="345.3" x2="345.3" y1="640" y2="646.5" class="ax"/>
<line x1="363.8" x2="363.8" y1="640" y2="646.5" class="ax"/>
<line x1="382.3" x2="382.3" y1="640" y2="646.5" class="ax"/>
<text class="xl" transform="translate(390.7,655.7) rotate(-90) scale(1.028,1.10)" text-anchor="end">1984</text>
<line x1="400.8" x2="400.8" y1="640" y2="646.5" class="ax"/>
<line x1="419.3" x2="419.3" y1="640" y2="646.5" class="ax"/>
<line x1="437.8" x2="437.8" y1="640" y2="646.5" class="ax"/>
<text class="xl" transform="translate(446.2,655.7) rotate(-90) scale(1.028,1.10)" text-anchor="end">1987</text>
<line x1="456.3" x2="456.3" y1="640" y2="646.5" class="ax"/>
<line x1="474.8" x2="474.8" y1="640" y2="646.5" class="ax"/>
<line x1="493.3" x2="493.3" y1="640" y2="646.5" class="ax"/>
<text class="xl" transform="translate(501.7,655.7) rotate(-90) scale(1.028,1.10)" text-anchor="end">1990</text>
<line x1="511.8" x2="511.8" y1="640" y2="646.5" class="ax"/>
<line x1="530.3" x2="530.3" y1="640" y2="646.5" class="ax"/>
<line x1="548.8" x2="548.8" y1="640" y2="646.5" class="ax"/>
<text class="xl" transform="translate(557.2,655.7) rotate(-90) scale(1.028,1.10)" text-anchor="end">1993</text>
<line x1="567.3" x2="567.3" y1="640" y2="646.5" class="ax"/>
<line x1="585.8" x2="585.8" y1="640" y2="646.5" class="ax"/>
<line x1="604.3" x2="604.3" y1="640" y2="646.5" class="ax"/>
<text class="xl" transform="translate(612.7,655.7) rotate(-90) scale(1.028,1.10)" text-anchor="end">1996</text>
<line x1="622.8" x2="622.8" y1="640" y2="646.5" class="ax"/>
<line x1="641.3" x2="641.3" y1="640" y2="646.5" class="ax"/>
<line x1="659.8" x2="659.8" y1="640" y2="646.5" class="ax"/>
<text class="xl" transform="translate(668.2,655.7) rotate(-90) scale(1.028,1.10)" text-anchor="end">1999</text>
<line x1="678.3" x2="678.3" y1="640" y2="646.5" class="ax"/>
<line x1="696.8" x2="696.8" y1="640" y2="646.5" class="ax"/>
<line x1="715.3" x2="715.3" y1="640" y2="646.5" class="ax"/>
<text class="xl" transform="translate(723.7,655.7) rotate(-90) scale(1.028,1.10)" text-anchor="end">2002</text>
<line x1="733.8" x2="733.8" y1="640" y2="646.5" class="ax"/>
<line x1="752.3" x2="752.3" y1="640" y2="646.5" class="ax"/>
<line x1="770.8" x2="770.8" y1="640" y2="646.5" class="ax"/>
<text class="xl" transform="translate(779.2,655.7) rotate(-90) scale(1.028,1.10)" text-anchor="end">2005</text>
<line x1="789.3" x2="789.3" y1="640" y2="646.5" class="ax"/>
<line x1="807.8" x2="807.8" y1="640" y2="646.5" class="ax"/>
<line x1="826.3" x2="826.3" y1="640" y2="646.5" class="ax"/>
<text class="xl" transform="translate(834.7,655.7) rotate(-90) scale(1.028,1.10)" text-anchor="end">2008</text>
<line x1="844.8" x2="844.8" y1="640" y2="646.5" class="ax"/>
<line x1="863.3" x2="863.3" y1="640" y2="646.5" class="ax"/>
<line x1="881.8" x2="881.8" y1="640" y2="646.5" class="ax"/>
<text class="xl" transform="translate(890.2,655.7) rotate(-90) scale(1.028,1.10)" text-anchor="end">2011</text>
<line x1="900.3" x2="900.3" y1="640" y2="646.5" class="ax"/>
<line x1="918.8" x2="918.8" y1="640" y2="646.5" class="ax"/>
<line x1="937.3" x2="937.3" y1="640" y2="646.5" class="ax"/>
<text class="xl" transform="translate(945.7,655.7) rotate(-90) scale(1.028,1.10)" text-anchor="end">2014</text>
<text transform="translate(101.1,452.8) rotate(-90) scale(1.023,1.07)" font-size="23.5" font-weight="bold" fill="#000">Prosent</text>

<!-- legend -->
<line x1="351.8" x2="377.3" y1="748" y2="748" stroke="#000" stroke-width="3.4" stroke-linecap="round"/>
<text x="380.00" y="754.8" font-size="20" fill="#000" textLength="66.05" lengthAdjust="spacingAndGlyphs">Samlet</text>
<text x="454.70" y="754.8" font-size="20" fill="#000" textLength="172.75" lengthAdjust="spacingAndGlyphs">organisasjonsgrad</text>

<g>
<rect x="218.5" y="782.5" width="26.3" height="13.8" fill="#3b78bd"/>
<path d="M218.5 782.5 H244.8 L238.8 789.3 H224.5 Z" fill="url(#swT0)"/>
<path d="M218.5 782.5 L224.5 789.4 L218.5 796.3 Z" fill="#000" fill-opacity="0.04"/>
<path d="M244.8 782.5 L238.8 789.4 L244.8 796.3 Z" fill="#000" fill-opacity="0.09"/>
<rect x="218.5" y="791.3" width="26.3" height="5.0" fill="url(#swBot)"/>
<rect x="218.9" y="782.9" width="25.5" height="13.0" fill="none" stroke="#000" stroke-opacity="0.16" stroke-width="0.8"/>
<rect x="286.8" y="782.5" width="26.3" height="13.8" fill="#c0403d"/>
<path d="M286.8 782.5 H313.1 L307.1 789.3 H292.8 Z" fill="url(#swT1)"/>
<path d="M286.8 782.5 L292.8 789.4 L286.8 796.3 Z" fill="#000" fill-opacity="0.04"/>
<path d="M313.1 782.5 L307.1 789.4 L313.1 796.3 Z" fill="#000" fill-opacity="0.09"/>
<rect x="286.8" y="791.3" width="26.3" height="5.0" fill="url(#swBot)"/>
<rect x="287.2" y="782.9" width="25.5" height="13.0" fill="none" stroke="#000" stroke-opacity="0.16" stroke-width="0.8"/>
<rect x="352.5" y="782.5" width="26.4" height="13.8" fill="#90b846"/>
<path d="M352.5 782.5 H378.9 L372.9 789.3 H358.5 Z" fill="url(#swT2)"/>
<path d="M352.5 782.5 L358.5 789.4 L352.5 796.3 Z" fill="#000" fill-opacity="0.04"/>
<path d="M378.9 782.5 L372.9 789.4 L378.9 796.3 Z" fill="#000" fill-opacity="0.09"/>
<rect x="352.5" y="791.3" width="26.4" height="5.0" fill="url(#swBot)"/>
<rect x="352.9" y="782.9" width="25.6" height="13.0" fill="none" stroke="#000" stroke-opacity="0.16" stroke-width="0.8"/>
<rect x="419.9" y="782.5" width="26.5" height="13.8" fill="#71569c"/>
<path d="M419.9 782.5 H446.4 L440.4 789.3 H425.9 Z" fill="url(#swT3)"/>
<path d="M419.9 782.5 L425.9 789.4 L419.9 796.3 Z" fill="#000" fill-opacity="0.04"/>
<path d="M446.4 782.5 L440.4 789.4 L446.4 796.3 Z" fill="#000" fill-opacity="0.09"/>
<rect x="419.9" y="791.3" width="26.5" height="5.0" fill="url(#swBot)"/>
<rect x="420.3" y="782.9" width="25.7" height="13.0" fill="none" stroke="#000" stroke-opacity="0.16" stroke-width="0.8"/>
<rect x="608.4" y="781.2" width="26.2" height="13.8" fill="#3398b4"/>
<path d="M608.4 781.2 H634.6 L628.6 788.0 H614.4 Z" fill="url(#swT4)"/>
<path d="M608.4 781.2 L614.4 788.1 L608.4 795.0 Z" fill="#000" fill-opacity="0.04"/>
<path d="M634.6 781.2 L628.6 788.1 L634.6 795.0 Z" fill="#000" fill-opacity="0.09"/>
<rect x="608.4" y="790.0" width="26.2" height="5.0" fill="url(#swBot)"/>
<rect x="608.8" y="781.6" width="25.4" height="13.0" fill="none" stroke="#000" stroke-opacity="0.16" stroke-width="0.8"/>
<rect x="696.6" y="781.2" width="26.4" height="13.8" fill="#ea8630"/>
<path d="M696.6 781.2 H723.0 L717.0 788.0 H702.6 Z" fill="url(#swT5)"/>
<path d="M696.6 781.2 L702.6 788.1 L696.6 795.0 Z" fill="#000" fill-opacity="0.04"/>
<path d="M723.0 781.2 L717.0 788.1 L723.0 795.0 Z" fill="#000" fill-opacity="0.09"/>
<rect x="696.6" y="790.0" width="26.4" height="5.0" fill="url(#swBot)"/>
<rect x="697.0" y="781.6" width="25.6" height="13.0" fill="none" stroke="#000" stroke-opacity="0.16" stroke-width="0.8"/>
</g>
<text class="lg" x="248.5" y="795.6" textLength="23" lengthAdjust="spacingAndGlyphs">LO</text>
<text class="lg" x="316.5" y="795.6" textLength="21.5" lengthAdjust="spacingAndGlyphs">YS</text>
<text class="lg" x="381" y="795.6" textLength="23.3" lengthAdjust="spacingAndGlyphs">AF</text>
<text class="lg" x="448.5" y="795.6" textLength="140" lengthAdjust="spacingAndGlyphs">Akademikerne</text>
<text class="lg" x="637.5" y="794.3" textLength="46" lengthAdjust="spacingAndGlyphs">Unio</text>
<text class="lg" x="725" y="794.3" textLength="58" lengthAdjust="spacingAndGlyphs">Andre</text>

<!-- footer -->
<g fill="#04577f"><circle cx="61.95" cy="888.5" r="5.45"/><path d="M55.45 895.90 H68.45 Q70.65 895.90 70.65 898.10 V907.40 Q70.65 908.60 69.45 908.60 H66.95 V918.00 H56.95 V908.60 H54.45 Q53.25 908.60 53.25 907.40 V898.10 Q53.25 895.90 55.45 895.90Z"/></g>
<g fill="#ee2527"><circle cx="83.35" cy="888.5" r="5.45"/><path d="M76.85 895.90 H89.85 Q92.05 895.90 92.05 898.10 V907.40 Q92.05 908.60 90.85 908.60 H88.35 V918.00 H78.35 V908.60 H75.85 Q74.65 908.60 74.65 907.40 V898.10 Q74.65 895.90 76.85 895.90Z"/></g>
<g fill="#2fb34a"><circle cx="104.65" cy="888.5" r="5.45"/><path d="M98.15 895.90 H111.15 Q113.35 895.90 113.35 898.10 V907.40 Q113.35 908.60 112.15 908.60 H109.65 V918.00 H99.65 V908.60 H97.15 Q95.95 908.60 95.95 907.40 V898.10 Q95.95 895.90 98.15 895.90Z"/></g>
<rect x="0" y="905.1" width="35" height="3.8" fill="#04527f"/>
<rect x="436" y="905.1" width="540" height="3.8" fill="#04527f"/>
<text x="130" y="917.6" font-size="41" fill="#454a53" stroke="#fff" stroke-width="0.4" textLength="285" lengthAdjust="spacing">arbeidslivet.no</text>
<text x="642.60" y="872" font-size="15" font-style="italic" font-weight="bold" fill="#000" stroke="#000" stroke-width="0.2" textLength="37.97" lengthAdjust="spacingAndGlyphs">Kilde:</text>
<text x="684.50" y="872" font-size="15" font-style="italic" fill="#000" stroke="#000" stroke-width="0.2" textLength="134.48" lengthAdjust="spacingAndGlyphs">Organisasjonsgrader,</text>
<text x="824.20" y="872" font-size="15" font-style="italic" fill="#000" stroke="#000" stroke-width="0.2" textLength="121.64" lengthAdjust="spacingAndGlyphs">tariffavtaledekning</text>
<text x="642.60" y="890.5" font-size="15" font-style="italic" fill="#000" stroke="#000" stroke-width="0.2" textLength="14.69" lengthAdjust="spacingAndGlyphs">og</text>
<text x="662.20" y="890.5" font-size="15" font-style="italic" fill="#000" stroke="#000" stroke-width="0.2" textLength="107.13" lengthAdjust="spacingAndGlyphs">arbeidskonflikter</text>
<text x="773.78" y="890.5" font-size="15" font-style="italic" fill="#000" stroke="#000" stroke-width="0.2" textLength="30.45" lengthAdjust="spacingAndGlyphs">2014,</text>
<text x="809.80" y="890.5" font-size="15" font-style="italic" fill="#000" stroke="#000" stroke-width="0.2" textLength="67.28" lengthAdjust="spacingAndGlyphs">Fafo-notat</text>
<text x="882.69" y="890.5" font-size="15" font-style="italic" fill="#000" stroke="#000" stroke-width="0.2" textLength="40.06" lengthAdjust="spacingAndGlyphs">2016:7</text>
</svg>
</body>
</html>
